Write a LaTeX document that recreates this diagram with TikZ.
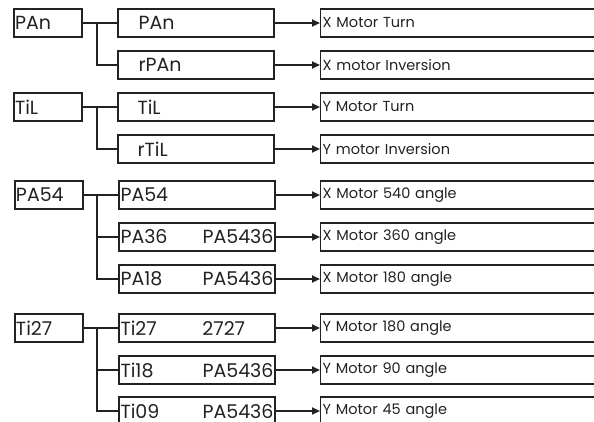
\documentclass[tikz,border=0pt]{standalone}
\usepackage{fontspec}
\setmainfont{Poppins}
\usetikzlibrary{arrows.meta}
\definecolor{ink}{HTML}{222222}
\tikzset{
  bx/.style={draw=ink, line width=1.3pt, minimum height=28pt, inner sep=0pt, text=ink},
  lbox/.style={bx, minimum width=68pt, text width=66pt, align=left, inner xsep=1pt, font=\fontsize{19}{21}\selectfont},
  mbox/.style={bx, minimum width=156pt, text width=153pt, align=left, inner xsep=1.5pt, font=\fontsize{19}{21}\selectfont},
  rbox/.style={bx, minimum width=330pt, text width=326pt, align=left, inner xsep=1.5pt, anchor=west, font=\fontsize{14.5}{16}\selectfont},
  conn/.style={draw=ink, line width=1.4pt},
  arr/.style={conn, line width=1.7pt, -{Triangle[length=8pt,width=7pt]}},
}
\begin{document}
\begin{tikzpicture}[x=1pt,y=-1pt]
\useasboundingbox (0,0) rectangle (594,422);
\clip (0,0) rectangle (594,422);
% left boxes
\node[lbox] (l1) at (48,23) {PAn};
\node[lbox] (l2) at (48,107) {TiL};
\node[lbox] (l3) at (49,195) {PA54};
\node[lbox] (l4) at (49,328) {Ti27};
% middle boxes
\node[mbox] (m1) at (196,23) {\hspace*{19pt}PAn};
\node[mbox] (m2) at (196,65) {\hspace*{19pt}rPAn};
\node[mbox] (m3) at (196,107) {\hspace*{18pt}TiL};
\node[mbox] (m4) at (196,149) {\hspace*{18pt}rTiL};
\node[mbox] (m5) at (197,195) {PA54};
\node[mbox] (m6) at (197,237) {PA36\hfill PA5436};
\node[mbox] (m7) at (197,279) {PA18\hfill PA5436};
\node[mbox] (m8) at (197,328) {\makebox[82pt][l]{Ti27}2727};
\node[mbox] (m9) at (197,370) {Ti18\hfill PA5436};
\node[mbox] (m10) at (197,411) {Ti09\hfill PA5436};
% right boxes
\node[rbox] (r1) at (320,23) {X Motor Turn};
\node[rbox] (r2) at (320,65) {X motor Inversion};
\node[rbox] (r3) at (320,107) {Y Motor Turn};
\node[rbox] (r4) at (320,149) {Y motor Inversion};
\node[rbox] (r5) at (320,195) {X Motor 540 angle};
\node[rbox] (r6) at (320,237) {X Motor 360 angle};
\node[rbox] (r7) at (320,279) {X Motor 180 angle};
\node[rbox] (r8) at (320,328) {Y Motor 180 angle};
\node[rbox] (r9) at (320,370) {Y Motor 90 angle};
\node[rbox] (r10) at (320,411) {Y Motor 45 angle};
% junctions
\coordinate (j1) at (97,23);
\coordinate (j2) at (97,107);
\coordinate (j3) at (97,195);
\coordinate (j4) at (97,328);
% tree connectors
\draw[conn] (l1) -- (m1);
\draw[conn] (j1) |- (m2.west);
\draw[conn] (l2) -- (m3);
\draw[conn] (j2) |- (m4.west);
\draw[conn] (l3) -- (m5);
\draw[conn] (j3) |- (m6.west);
\draw[conn] (j3) |- (m7.west);
\draw[conn] (l4) -- (m8);
\draw[conn] (j4) |- (m9.west);
\draw[conn] (j4) |- (m10.west);
% arrows
\foreach \i in {1,...,10}{\draw[arr] (m\i.east) -- (r\i.west);}
\end{tikzpicture}
\end{document}
